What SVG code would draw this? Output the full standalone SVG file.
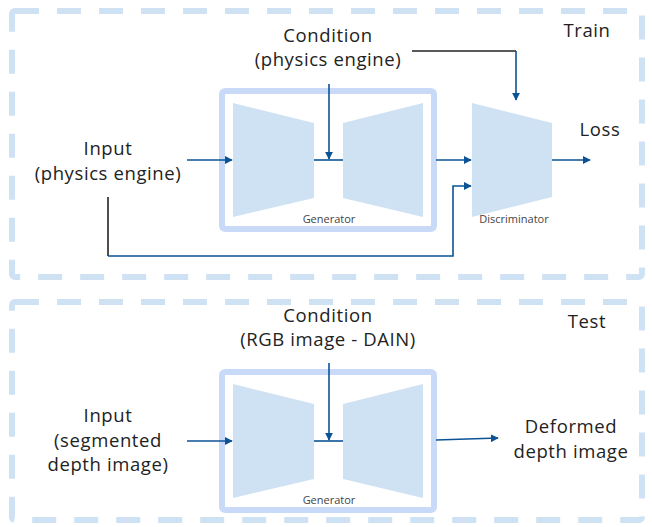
<svg xmlns="http://www.w3.org/2000/svg" width="652" height="527" viewBox="0 0 652 527">
<defs>
<style>
.frame{fill:none;stroke:#cfe2f3;stroke-width:6;stroke-dasharray:24 18}
.gbox{fill:none;stroke:#c9daf8;stroke-width:6}
.trap{fill:#cfe2f3;stroke:none}
.t{font-family:"Open Sans",Lato,sans-serif;font-size:18.5px;letter-spacing:0.6px;fill:#222;text-anchor:middle}
.s{font-family:"Open Sans",Lato,sans-serif;font-size:11px;fill:#444;text-anchor:middle}
.c{fill:none;stroke:#0b5394;stroke-width:1.6}
.d{fill:none;stroke:#222;stroke-width:1.6}
</style>
<marker id="ah" viewBox="0 0 10 10" refX="9" refY="5" markerWidth="5" markerHeight="5" orient="auto" markerUnits="strokeWidth">
<path d="M0,0 L10,5 L0,10 z" fill="#0b5394"/>
</marker>
</defs>
<rect width="652" height="527" fill="#fff"/>
<g id="train-frame"><rect class="frame" x="12" y="11" width="630" height="266" rx="3"/>
<text class="t" x="587" y="37">Train</text></g>
<g id="test-frame"><rect class="frame" x="12" y="302" width="630" height="218" rx="3"/>
<text class="t" x="587" y="328">Test</text></g>

<g id="train-generator">
<rect class="gbox" x="222" y="91" width="212" height="138" rx="3"/>
<polygon class="trap" points="233,103 314,123 314,198 233,217"/>
<polygon class="trap" points="343,123 423,103 423,217 343,198"/>
<text class="s" x="329" y="223">Generator</text>
</g>
<g id="discriminator">
<polygon class="trap" points="472,103 552,123 552,197 472,217"/>
<text class="s" x="514" y="223">Discriminator</text>
</g>
<g id="train-condition"><text class="t" x="328" y="42">Condition</text><text class="t" x="328" y="66">(physics engine)</text></g>
<g id="train-input"><text class="t" x="108" y="155">Input</text><text class="t" x="108" y="180">(physics engine)</text></g>
<g id="loss"><text class="t" x="600" y="136">Loss</text></g>

<g id="test-generator">
<rect class="gbox" x="222" y="372" width="212" height="138" rx="3"/>
<polygon class="trap" points="233,384 314,404 314,479 233,498"/>
<polygon class="trap" points="343,404 423,384 423,498 343,479"/>
<text class="s" x="329" y="504">Generator</text>
</g>
<g id="test-condition"><text class="t" x="328" y="322">Condition</text><text class="t" x="328" y="346">(RGB image - DAIN)</text></g>
<g id="test-input"><text class="t" x="108" y="422">Input</text><text class="t" x="108" y="447">(segmented</text><text class="t" x="108" y="471">depth image)</text></g>
<g id="output"><text class="t" x="571" y="433">Deformed</text><text class="t" x="571" y="458">depth image</text></g>

<g id="connectors">
<path class="c" d="M187,160 H232" marker-end="url(#ah)"/>
<path class="c" d="M314,160 H343"/>
<path class="c" d="M329,84 V159" marker-end="url(#ah)"/>
<path class="c" d="M436,160 H471" marker-end="url(#ah)"/>
<path class="c" d="M552,160 H590" marker-end="url(#ah)"/>
<path class="d" d="M412,51 H516"/>
<path class="c" d="M516,51 V100" marker-end="url(#ah)"/>
<path class="d" d="M108,197 V256"/>
<path class="c" d="M108,256 H453 V186 H471" marker-end="url(#ah)"/>
<path class="c" d="M187,441 H232" marker-end="url(#ah)"/>
<path class="c" d="M314,441 H343"/>
<path class="c" d="M329,363 V440" marker-end="url(#ah)"/>
<path class="c" d="M436,440 L498,438" marker-end="url(#ah)"/>
</g>
</svg>
